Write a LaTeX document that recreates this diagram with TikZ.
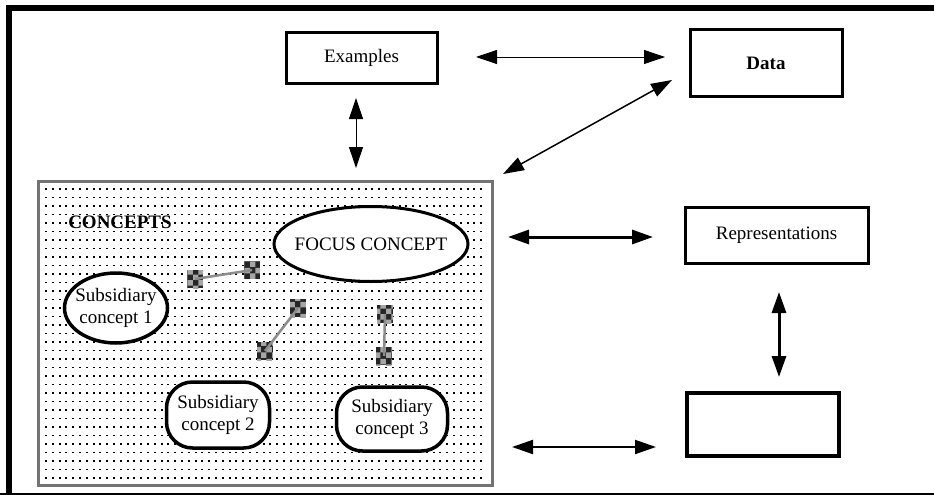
\documentclass[tikz,border=0pt]{standalone}
\usepackage{fontspec}
\setmainfont{Liberation Serif}
\usetikzlibrary{arrows.meta,shapes.geometric,patterns}
\begin{document}
\begin{tikzpicture}[x=1pt,y=-1pt,
  txt/.style={font=\fontsize{19}{22}\selectfont, inner sep=0pt, align=center},
  box/.style={draw, line width=3pt, fill=white, inner sep=0pt, font=\fontsize{19}{22}\selectfont},
  blob/.style={ellipse, draw, line width=3.5pt, fill=white, inner sep=0pt},
  rblob/.style={rectangle, rounded corners=26pt, draw, line width=3.5pt, fill=white, inner sep=0pt},
  dbl/.style={{Triangle[length=21pt,width=14pt]}-{Triangle[length=21pt,width=14pt]}},
  chk/.style={fill=black!85, inner sep=0pt, minimum width=16pt, minimum height=18pt,
    postaction={pattern=checkerboard, pattern color=black!35}},
  link/.style={draw=black!45, line width=2.5pt},
]
\useasboundingbox (0,0) rectangle (934,495);
% outer frame
\draw[line width=6pt] (9,495) -- (9,8) -- (934,8);
\draw[line width=2pt] (0,493.5) -- (934,493.5);

% concepts area with dot grid
\foreach \i in {0,...,64} {\foreach \j in {0,...,34} {\fill[black] (45+6.8*\i, 188+8.5*\j) rectangle ++(1.9,1.9);}}
\node[draw=black!55, line width=3pt, minimum width=454pt, minimum height=304pt, inner sep=0pt] (area) at (265,333) {};
\node[txt, font=\fontsize{19}{22}\selectfont\bfseries] (concepts) at (120,222) {CONCEPTS};

% ellipses
\node[blob, line width=3pt, minimum width=194pt, minimum height=75pt] (focus) at (371,244) {};
\node[txt] (focust) at (focus) {FOCUS CONCEPT};
\node[blob, minimum width=103pt, minimum height=70pt] (s1) at (116,308) {};
\node[txt] (s1t) at (s1) {Subsidiary\\concept 1};
\node[rblob, minimum width=103pt, minimum height=66pt] (s2) at (218,415) {};
\node[txt] (s2t) at (s2) {Subsidiary\\concept 2};
\node[rblob, minimum width=111pt, minimum height=64pt] (s3) at (392,419) {};
\node[txt] (s3t) at (s3) {Subsidiary\\concept 3};

% checkered links
\node[chk] (l1a) at (195,279) {};
\node[chk] (l1b) at (252,270) {};
\draw[link] (l1a.center) -- (l1b.center);
\node[chk] (l2a) at (265,351) {};
\node[chk] (l2b) at (298,308) {};
\draw[link] (l2a.center) -- (l2b.center);
\node[chk] (l3a) at (385,314) {};
\node[chk] (l3b) at (384,356) {};
\draw[link] (l3a.center) -- (l3b.center);

% boxes
\node[box, minimum width=151pt, minimum height=50pt] (ex) at (361.5,58) {Examples};
\node[box, minimum width=152pt, minimum height=66pt] (data) at (766,63) {\textbf{Data}};
\node[box, minimum width=183pt, minimum height=56pt] (rep) at (776.5,235) {Representations};
\node[box, line width=4pt, minimum width=152pt, minimum height=63pt] (emp) at (763,424.5) {};

% arrows
\coordinate (a1) at (476,57); \coordinate (a2) at (665,57);
\draw[dbl, line width=0.8pt] (a1) -- (a2);
\coordinate (b1) at (356,98); \coordinate (b2) at (356,168);
\draw[dbl, line width=1pt] (b1) -- (b2);
\coordinate (c1) at (672,80); \coordinate (c2) at (503,174);
\draw[dbl, line width=1.5pt] (c1) -- (c2);
\coordinate (d1) at (508,237); \coordinate (d2) at (653,237);
\draw[dbl, line width=3pt] (d1) -- (d2);
\coordinate (e1) at (779,292); \coordinate (e2) at (779,377);
\draw[dbl, line width=3pt] (e1) -- (e2);
\coordinate (f1) at (512,447); \coordinate (f2) at (656,447);
\draw[dbl, line width=2pt] (f1) -- (f2);
\end{tikzpicture}
\end{document}
